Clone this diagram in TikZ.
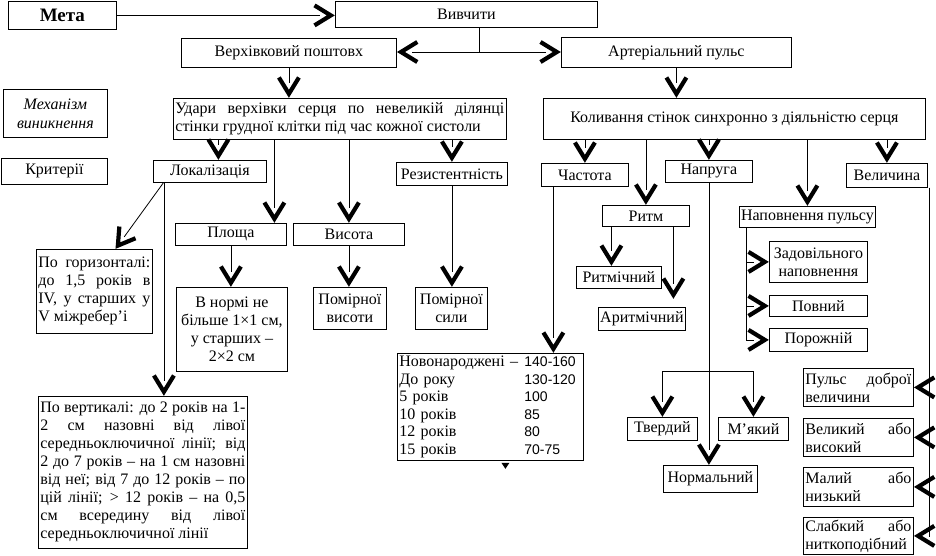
\documentclass[tikz,border=0pt]{standalone}
\usepackage{fontspec}
\setmainfont{Liberation Serif}
\newfontfamily\numfont{Liberation Sans}

% heavy open V head, as in the scheme
\pgfdeclarearrow{
  name = Vtip,
  setup code = {
    \pgfarrowssettipend{0pt}
    \pgfarrowssetlineend{-15pt}
    \pgfarrowssetbackend{-21pt}
    \pgfarrowshullpoint{0pt}{0pt}
    \pgfarrowshullpoint{-21pt}{12pt}
    \pgfarrowshullpoint{-21pt}{-12pt}
  },
  drawing code = {
    \pgfsetdash{}{0pt}
    \pgfsetlinewidth{4.2pt}
    \pgfsetmiterjoin
    \pgfsetbuttcap
    \pgfpathmoveto{\pgfpoint{-20.5pt}{10pt}}
    \pgfpathlineto{\pgfpoint{-4.2pt}{0pt}}
    \pgfpathlineto{\pgfpoint{-20.5pt}{-10pt}}
    \pgfusepathqstroke
  }
}

\begin{document}
\begin{tikzpicture}[x=1pt, y=-1pt, font=\fontsize{16}{18}\selectfont,
  box/.style={draw, line width=0.8pt, inner sep=1pt, align=center, anchor=north west},
  jbox/.style={box, align=justify, inner xsep=2pt, inner ysep=2pt},
  link/.style={line width=0.8pt},
  arr/.style={link, -Vtip}]
  \useasboundingbox (0,0) rectangle (936,556);

  % Top row
  \node[box, minimum width=108pt, minimum height=28pt, font=\fontsize{19}{21}\selectfont\bfseries] (meta) at (8,1) {Мета};
  \node[box, minimum width=262pt, minimum height=26pt] (vyvchyty) at (335,1) {Вивчити};
  \node[box, minimum width=215pt, minimum height=29pt] (verkh) at (181,38) {Верхівковий поштовх};
  \node[box, minimum width=230pt, minimum height=30pt] (arter) at (561,37) {Артеріальний пульс};
  \node[box, minimum width=104pt, minimum height=48pt, font=\fontsize{16}{19}\selectfont\itshape] (mekh) at (3,89) {Механізм\\виникнення};
  \node[box, minimum width=106pt, minimum height=26pt] (kryt) at (1,158) {Критерії};

  \draw[arr] (meta.east) -- (meta.east -| vyvchyty.west);
  \coordinate (split) at (479,52);
  \draw[link] (vyvchyty.south -| split) -- (split);
  \draw[arr] (split) -- (split -| verkh.east);
  \draw[arr] (split) -- (split -| arter.west);

  % Left branch: apex beat
  \node[jbox, text width=329pt, minimum height=41pt] (udary) at (173,98)
    {Удари верхівки серця по невеликій ділянці\linebreak стінки грудної клітки під час кожної систоли};
  \node[box, minimum width=113pt, minimum height=22pt] (lokal) at (153,160) {Локалізація};
  \node[box, minimum width=111pt, minimum height=22pt] (ploshcha) at (175,223) {Площа};
  \node[box, minimum width=111pt, minimum height=22pt] (vysota) at (293,223) {Висота};
  \node[box, minimum width=111pt, minimum height=23pt] (rezyst) at (396,162) {Резистентність};
  \node[box, minimum width=111pt, minimum height=84pt] (vnormi) at (176,287) {В нормі не\\більше 1×1 см,\\у старших –\\2×2 см};
  \node[box, minimum width=73pt, minimum height=42pt] (pomvys) at (313,287) {Помірної\\висоти};
  \node[box, minimum width=72pt, minimum height=42pt] (pomsyl) at (415,287) {Помірної\\сили};
  \node[jbox, text width=112pt, minimum height=84pt] (gor) at (36,249)
    {По горизонталі:\linebreak до 1,5 років в\linebreak IV, у старших у\linebreak V міжребер’і};
  \node[jbox, text width=205pt, minimum height=152pt] (vert) at (38,396)
    {По вертикалі: до 2 років на 1-\linebreak 2 см назовні від лівої\linebreak
     середньоключичної лінії; від\linebreak 2 до 7 років – на 1 см назовні\linebreak
     від неї; від 7 до 12 років – по\linebreak цій лінії; > 12 років – на 0,5\linebreak
     см всередину від лівої\linebreak середньоключичної лінії};

  \draw[arr] (verkh.south) -- (verkh.south |- udary.north);
  \draw[arr] ([xshift=8.5pt]lokal.north |- udary.south) -- ([xshift=8.5pt]lokal.north);
  \draw[arr] ([xshift=43.5pt]ploshcha.north |- udary.south) -- ([xshift=43.5pt]ploshcha.north);
  \draw[arr] (vysota.north |- udary.south) -- (vysota.north);
  \draw[arr] (rezyst.north |- udary.south) -- (rezyst.north);
  \draw[arr] ([xshift=-46.5pt]lokal.south) -- ([xshift=21pt]gor.north);
  \draw[arr] ([xshift=-46pt]lokal.south) -- ([xshift=21pt]vert.north);
  \draw[arr] (ploshcha.south) -- (ploshcha.south |- vnormi.north);
  \draw[arr] (vysota.south) -- (vysota.south |- pomvys.north);
  \draw[arr] (rezyst.south) -- (rezyst.south |- pomsyl.north);

  % Right branch: arterial pulse
  \node[box, minimum width=382pt, minimum height=41pt] (kolyv) at (543,98) {Коливання стінок синхронно з діяльністю серця};
  \node[box, minimum width=87pt, minimum height=23pt] (chast) at (541,163) {Частота};
  \node[box, minimum width=87pt, minimum height=21pt] (rytm) at (602,205) {Ритм};
  \node[box, minimum width=87pt, minimum height=22pt] (napr) at (665,160) {Напруга};
  \node[box, minimum width=136pt, minimum height=21pt] (napov) at (739,206) {Наповнення пульсу};
  \node[box, minimum width=81pt, minimum height=24pt] (velych) at (846,163) {Величина};
  \node[box, minimum width=85pt, minimum height=22pt] (rytmich) at (576,266) {Ритмічний};
  \node[box, minimum width=87pt, minimum height=23pt] (arytm) at (598,307) {Аритмічний};
  \node[box, align=left, inner sep=2pt, text width=182pt, minimum height=107pt,
        font=\fontsize{16}{17.5}\selectfont] (table) at (397,353)
    {\makebox[125pt][l]{Новонароджені –}{\numfont\fontsize{14}{17.5}\selectfont 140-160}\\
     \makebox[125pt][l]{До року}{\numfont\fontsize{14}{17.5}\selectfont 130-120}\\
     \makebox[125pt][l]{5 років}{\numfont\fontsize{14}{17.5}\selectfont 100}\\
     \makebox[125pt][l]{10 років}{\numfont\fontsize{14}{17.5}\selectfont 85}\\
     \makebox[125pt][l]{12 років}{\numfont\fontsize{14}{17.5}\selectfont 80}\\
     \makebox[125pt][l]{15 років}{\numfont\fontsize{14}{17.5}\selectfont 70-75}};
  \node[box, minimum width=70pt, minimum height=23pt] (tverd) at (627,417) {Твердий};
  \node[box, minimum width=70pt, minimum height=23pt] (miak) at (718,417) {М’який};
  \node[box, minimum width=94pt, minimum height=27pt] (norm) at (663,465) {Нормальний};
  \node[box, minimum width=98pt, minimum height=41pt] (zadov) at (769,241) {Задовільного\\наповнення};
  \node[box, minimum width=98pt, minimum height=21pt] (povn) at (769,295) {Повний};
  \node[box, minimum width=98pt, minimum height=23pt] (poroz) at (769,328) {Порожній};
  \node[jbox, text width=106pt, minimum height=38pt] (dobr) at (803,368) {Пульс доброї\linebreak величини};
  \node[jbox, text width=106pt, minimum height=38pt] (velyk) at (803,418) {Великий або\linebreak високий};
  \node[jbox, text width=106pt, minimum height=39pt] (malyi) at (803,467) {Малий або\linebreak низький};
  \node[jbox, text width=106pt, minimum height=37pt] (slab) at (803,517) {Слабкий або\linebreak ниткоподібний};

  \draw[arr] (arter.south) -- (arter.south |- kolyv.north);
  \draw[arr] (chast.north |- kolyv.south) -- (chast.north);
  \draw[arr] (rytm.north |- kolyv.south) -- (rytm.north);
  \draw[arr] (napr.north |- kolyv.south) -- (napr.north);
  \draw[arr] (napov.north |- kolyv.south) -- (napov.north);
  \draw[arr] (velych.north |- kolyv.south) -- (velych.north);
  \draw[arr] ([xshift=-34.5pt]rytm.south) -- ([xshift=-34.5pt]rytm.south |- rytmich.north);
  \draw[arr] ([xshift=27.5pt]rytm.south) -- ([xshift=27.5pt,yshift=8pt]rytm.south |- arytm.north);
  \draw[arr] ([xshift=-31.5pt]chast.south) -- ([xshift=-31.5pt]chast.south |- table.north);
  \fill ([xshift=11pt,yshift=-2pt]table.south) -- ++(8,0) -- ++(-4,6) -- cycle;
  \draw[arr] (napr.south) -- (napr.south |- norm.north);
  \coordinate (fork) at (709,371);
  \draw[link] (fork -| tverd.north) -- (fork -| miak.north);
  \draw[arr] (fork -| tverd.north) -- (tverd.north);
  \draw[arr] (fork -| miak.north) -- (miak.north);
  \foreach \n in {zadov, povn, poroz}
    \draw[arr] ([xshift=-61pt]napov.south) |- (\n.west);
  \foreach \n in {dobr, velyk, malyi, slab}
    \draw[arr] ([xshift=2pt]velych.south east) |- (\n.east);
\end{tikzpicture}
\end{document}
